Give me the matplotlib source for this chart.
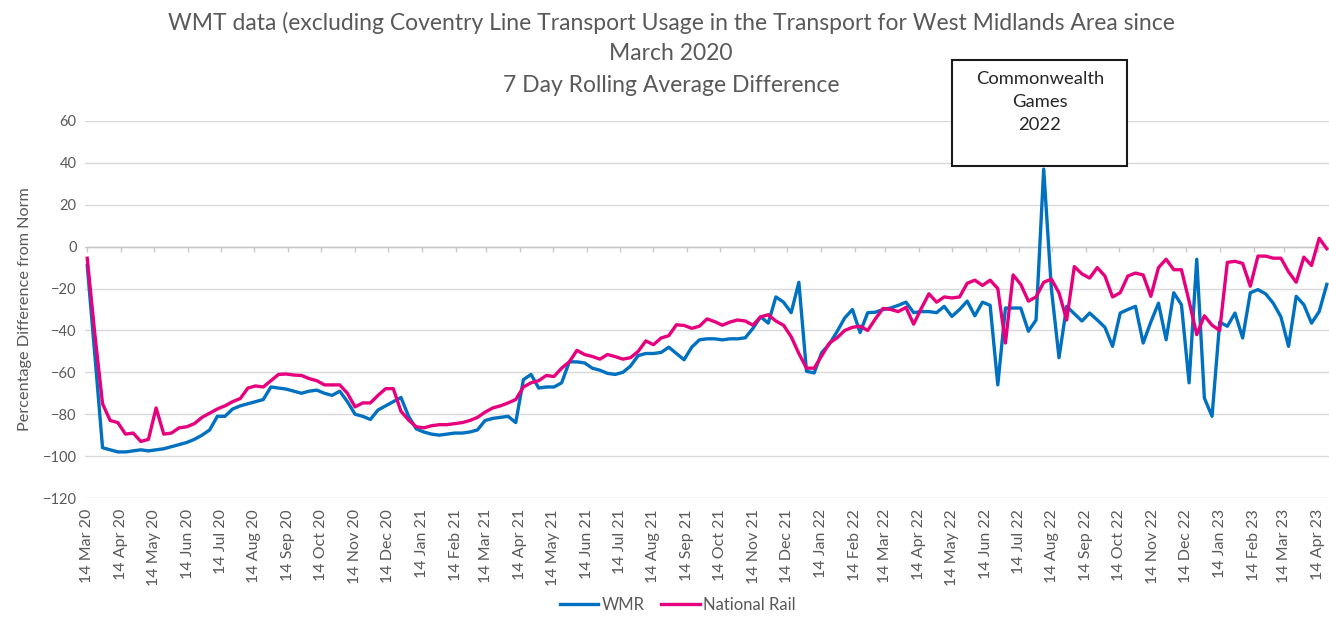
import matplotlib
matplotlib.use("Agg")
import matplotlib.pyplot as plt
from matplotlib.patches import Rectangle
import pandas as pd

# weekly readings of the 7 day rolling average, starting 14 Mar 2020
start_date = "2020-03-14"

wmr = [
    -9, -52, -96, -97, -98, -98, -97.5, -97, -97.5, -97,
    -96.5, -95.5, -94.5, -93.5, -92, -90, -87.5, -81, -81, -77.5,
    -76, -75, -74, -73, -67, -67.5, -68, -69, -70, -69,
    -68.5, -70, -71, -69, -74, -80, -81, -82.5, -78, -76,
    -74, -72, -81, -87, -88.5, -89.5, -90, -89.5, -89, -89,
    -88.5, -87.5, -83, -82, -81.5, -81, -84, -63.5, -61, -67.5,
    -67, -67, -65, -55, -55, -55.5, -58, -59, -60.5, -61,
    -60, -57, -52, -51, -51, -50.5, -48, -51, -54, -48,
    -44.5, -44, -44, -44.5, -44, -44, -43.5, -39, -33.5, -36.5,
    -24, -26.5, -31.5, -17, -59.5, -60.3, -50.5, -46.5, -40.5, -34,
    -30, -41, -31.5, -31.3, -30, -29.3, -28, -26.5, -31.5, -31,
    -31, -31.5, -28.5, -33.3, -30, -26, -33, -26.5, -28, -66,
    -29.3, -29.3, -29.3, -40.4, -35, 37, -20, -53, -28.5, -32,
    -35.5, -31.7, -35, -38.5, -47.6, -31.7, -30, -28.5, -46, -36,
    -27, -44.4, -22, -27.7, -65, -6, -72.3, -81, -36, -38,
    -31.7, -43.6, -22, -20.5, -22.5, -27, -33.5, -47.6, -23.7, -27.7,
    -36.5, -31, -18,
]

national_rail = [
    -5.5, -42, -75, -83, -84, -89.5, -89, -93, -92, -77,
    -89.5, -89, -86.5, -86, -84.5, -81.5, -79.5, -77.5, -76, -74,
    -72.5, -67.5, -66.5, -67, -64, -61, -60.8, -61.3, -61.5, -63,
    -64, -66, -66, -66, -70, -76.5, -74.6, -74.6, -71, -67.8,
    -67.8, -78.6, -82.8, -86, -86.5, -85.5, -85, -85, -84.5, -84,
    -83, -81.5, -79, -77, -76, -74.6, -73, -67, -65, -64,
    -61.5, -62, -58, -55, -49.5, -51.5, -52.4, -53.7, -51.5, -52.5,
    -53.7, -53, -50, -45, -46.8, -43.6, -42.5, -37.3, -37.6, -39,
    -38, -34.5, -35.8, -37.5, -36, -35, -35.5, -37.5, -33.5, -32.5,
    -35.5, -37.5, -43, -51, -58, -58, -52, -46, -43.5, -40,
    -38.5, -38, -40, -34.5, -29.5, -30, -31, -29, -37, -29.5,
    -22.5, -26.5, -24, -24.5, -24, -17.5, -16, -18.5, -16, -20,
    -46, -13.5, -18, -26, -24, -17, -15.5, -22, -35, -9.5,
    -13, -15, -10, -14, -24, -22, -14, -12.6, -13.5, -23.7,
    -10, -6, -11, -11, -26, -42, -33, -37.5, -40, -7.5,
    -7, -8, -18.9, -4.5, -4.5, -5.5, -5.5, -12, -17, -5,
    -9, 4, -1,
]

tick_first, tick_last = "2020-03-14", "2023-04-14"
y_ticks = list(range(-120, 61, 20))

title_lines = [
    "WMT data (excluding Coventry Line Transport Usage in the Transport for West Midlands Area since",
    "March 2020",
    "7 Day Rolling Average Difference",
]
note = "Commonwealth\nGames\n2022"

GREY = "#595959"


def main():
    plt.rcParams["font.family"] = ["Lato", "DejaVu Sans"]
    dates = pd.date_range(start_date, periods=len(wmr), freq="7D")
    month_ticks = pd.date_range(tick_first, tick_last, freq=pd.DateOffset(months=1))

    fig = plt.figure(figsize=(13.29, 6.25), dpi=100)
    ax = fig.add_axes([0.064, 0.2032, 0.936, 0.6032])

    ax.plot(dates, wmr, color="#0070C0", lw=2.4, label="WMR", zorder=3)
    ax.plot(dates, national_rail, color="#E6007E", lw=2.4, label="National Rail", zorder=3)

    ax.set_ylim(-120, 60)
    ax.set_xlim(dates[0] - pd.Timedelta(days=2), dates[-1] + pd.Timedelta(days=2))
    ax.set_yticks(y_ticks)
    ax.yaxis.grid(True, color="#d9d9d9", lw=1)
    ax.set_axisbelow(True)
    for s in ax.spines.values():
        s.set_visible(False)

    # horizontal axis sits on zero, labels stay at the bottom
    ax.axhline(0, color="#c8c8c8", lw=1, zorder=1)
    ax.vlines(month_ticks, -2.5, 0, color="#c8c8c8", lw=1, zorder=1)

    ax.set_xticks(month_ticks)
    ax.set_xticklabels([d.strftime("%d %b %y") for d in month_ticks], rotation=90)
    ax.tick_params(axis="x", length=0, pad=8, labelsize=11.5, labelcolor=GREY)
    ax.tick_params(axis="y", length=0, pad=6, labelsize=10.5, labelcolor=GREY)
    ax.set_ylabel("Percentage Difference from Norm", fontsize=11.7, color=GREY, labelpad=8)

    for y, line in zip([0.963, 0.915, 0.864], title_lines):
        fig.text(0.505, y, line, ha="center", va="center", fontsize=16.5, color=GREY)

    box = Rectangle((0.7163, 0.7344), 0.1317, 0.1696, transform=fig.transFigure,
                    facecolor="white", edgecolor="#1a1a1a", lw=1.5, zorder=5)
    fig.patches.append(box)
    fig.text(0.7825, 0.8368, note, ha="center", va="center", fontsize=13.2,
             color="#262626", linespacing=1.55, zorder=6)

    fig.legend(loc="center", bbox_to_anchor=(0.51, 0.032), ncol=2, frameon=False,
               fontsize=12, handlelength=2.3, handletextpad=0.2, columnspacing=1.0,
               labelcolor=GREY)

    fig.savefig("out.png", dpi=100)


if __name__ == "__main__":
    main()
